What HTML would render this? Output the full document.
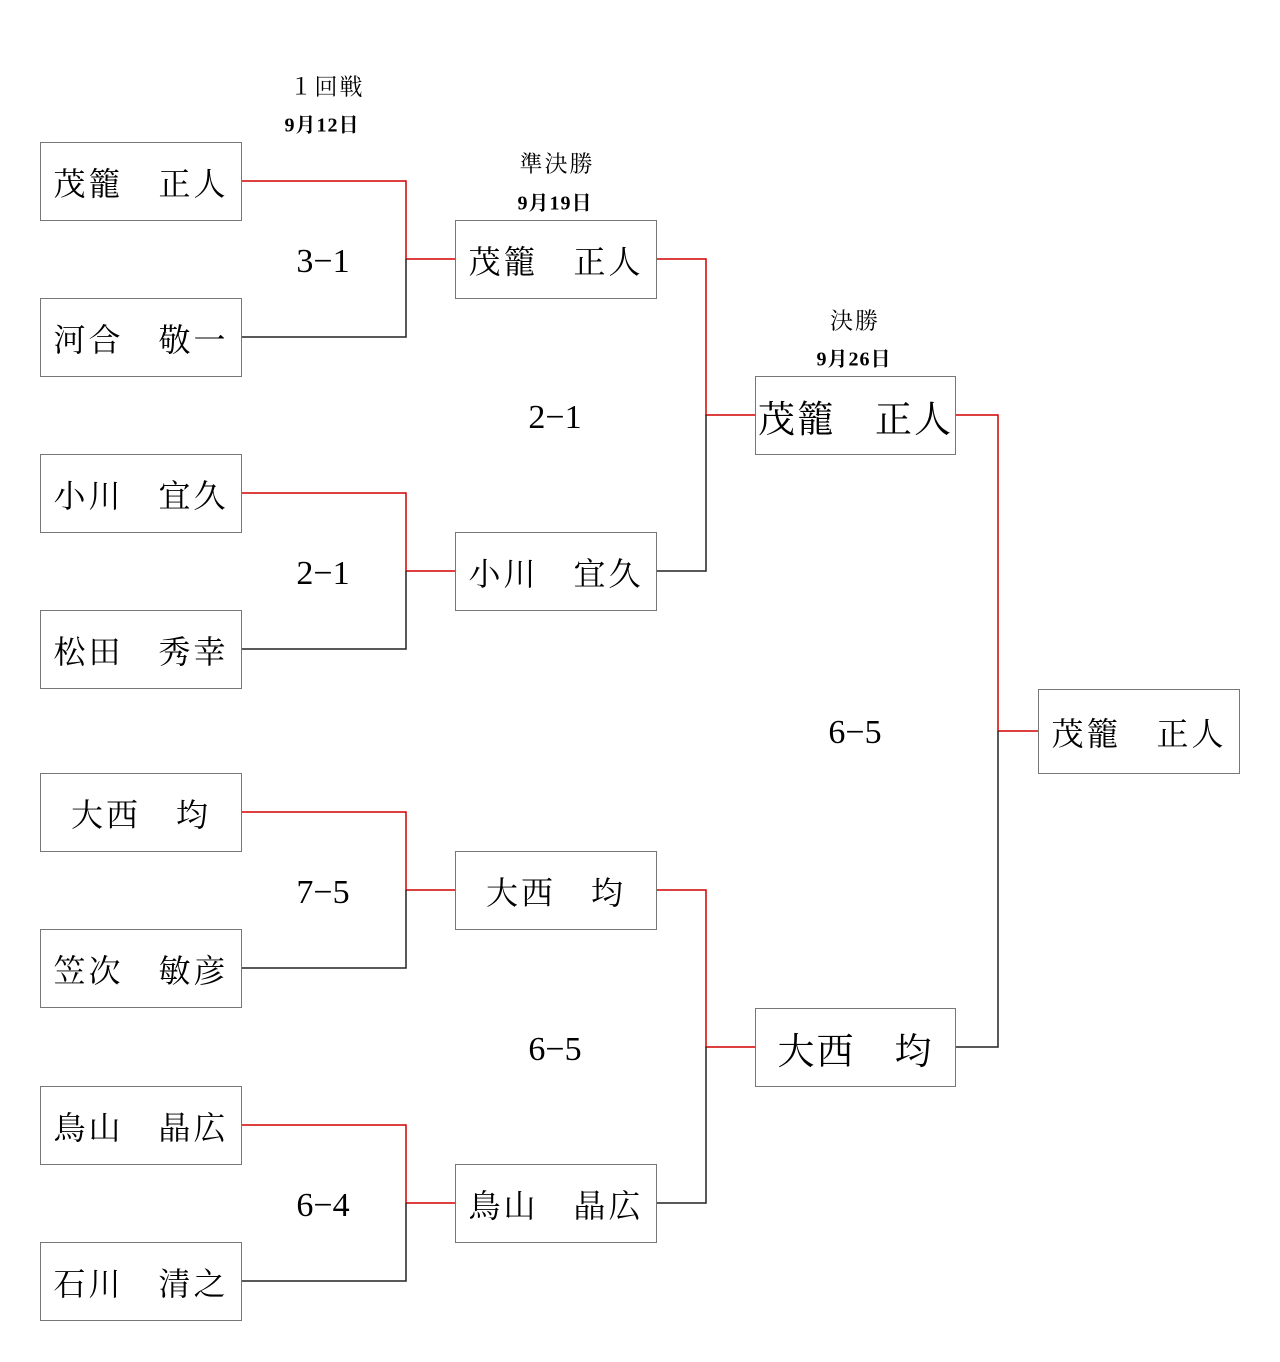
<!DOCTYPE html>
<html><head><meta charset="utf-8"><style>
body{margin:0;width:1280px;height:1362px;background:#fff;position:relative;overflow:hidden;font-family:"Liberation Serif","Noto Serif CJK SC",serif;color:#000}
.b{position:absolute;border:1px solid #777;box-sizing:border-box;display:flex;align-items:center;justify-content:center;white-space:pre;font-size:32px;letter-spacing:3px}
.t{position:absolute;transform:translate(-50%,-50%);white-space:nowrap}
.h{font-size:23px;letter-spacing:2px}.d{font-size:20px;letter-spacing:1px;font-weight:bold}.s{font-size:34px}
svg{position:absolute;left:0;top:0}
</style></head><body>
<svg width="1280" height="1362" fill="none" stroke-width="1.5">
<g stroke="#d40000">
<polyline points="241,181 406,181 406,259 455,259"/>
<polyline points="241,493 406,493 406,571 455,571"/>
<polyline points="241,812 406,812 406,890 455,890"/>
<polyline points="241,1125 406,1125 406,1203 455,1203"/>
<polyline points="656,259 706,259 706,415 755,415"/>
<polyline points="656,890 706,890 706,1047 755,1047"/>
<polyline points="955,415 998,415 998,731 1038,731"/>
</g>
<g stroke="#222">
<polyline points="241,337 406,337 406,259"/>
<polyline points="241,649 406,649 406,571"/>
<polyline points="241,968 406,968 406,890"/>
<polyline points="241,1281 406,1281 406,1203"/>
<polyline points="656,571 706,571 706,415"/>
<polyline points="656,1203 706,1203 706,1047"/>
<polyline points="955,1047 998,1047 998,731"/>
</g>
</svg>
<div class="b" style="left:40px;top:142px;width:202px;height:79px">茂籠　正人</div>
<div class="b" style="left:40px;top:298px;width:202px;height:79px">河合　敬一</div>
<div class="b" style="left:40px;top:454px;width:202px;height:79px">小川　宜久</div>
<div class="b" style="left:40px;top:610px;width:202px;height:79px">松田　秀幸</div>
<div class="b" style="left:40px;top:773px;width:202px;height:79px">大西　均</div>
<div class="b" style="left:40px;top:929px;width:202px;height:79px">笠次　敏彦</div>
<div class="b" style="left:40px;top:1086px;width:202px;height:79px">鳥山　晶広</div>
<div class="b" style="left:40px;top:1242px;width:202px;height:79px">石川　清之</div>
<div class="b" style="left:455px;top:220px;width:202px;height:79px">茂籠　正人</div>
<div class="b" style="left:455px;top:532px;width:202px;height:79px">小川　宜久</div>
<div class="b" style="left:455px;top:851px;width:202px;height:79px">大西　均</div>
<div class="b" style="left:455px;top:1164px;width:202px;height:79px">鳥山　晶広</div>
<div class="b" style="left:755px;top:376px;width:201px;height:79px;font-size:37px;letter-spacing:2px">茂籠　正人</div>
<div class="b" style="left:755px;top:1008px;width:201px;height:79px;font-size:37px;letter-spacing:2px">大西　均</div>
<div class="b" style="left:1038px;top:689px;width:202px;height:85px">茂籠　正人</div>
<div class="t h" style="left:327px;top:85px">１回戦</div>
<div class="t d" style="left:322px;top:123px">9月12日</div>
<div class="t h" style="left:557px;top:162px">準決勝</div>
<div class="t d" style="left:555px;top:201px">9月19日</div>
<div class="t h" style="left:855px;top:319px">決勝</div>
<div class="t d" style="left:854px;top:357px">9月26日</div>
<div class="t s" style="left:323px;top:262px">3−1</div>
<div class="t s" style="left:555px;top:418px">2−1</div>
<div class="t s" style="left:323px;top:574px">2−1</div>
<div class="t s" style="left:323px;top:893px">7−5</div>
<div class="t s" style="left:555px;top:1050px">6−5</div>
<div class="t s" style="left:323px;top:1206px">6−4</div>
<div class="t s" style="left:855px;top:733px">6−5</div>
</body></html>
